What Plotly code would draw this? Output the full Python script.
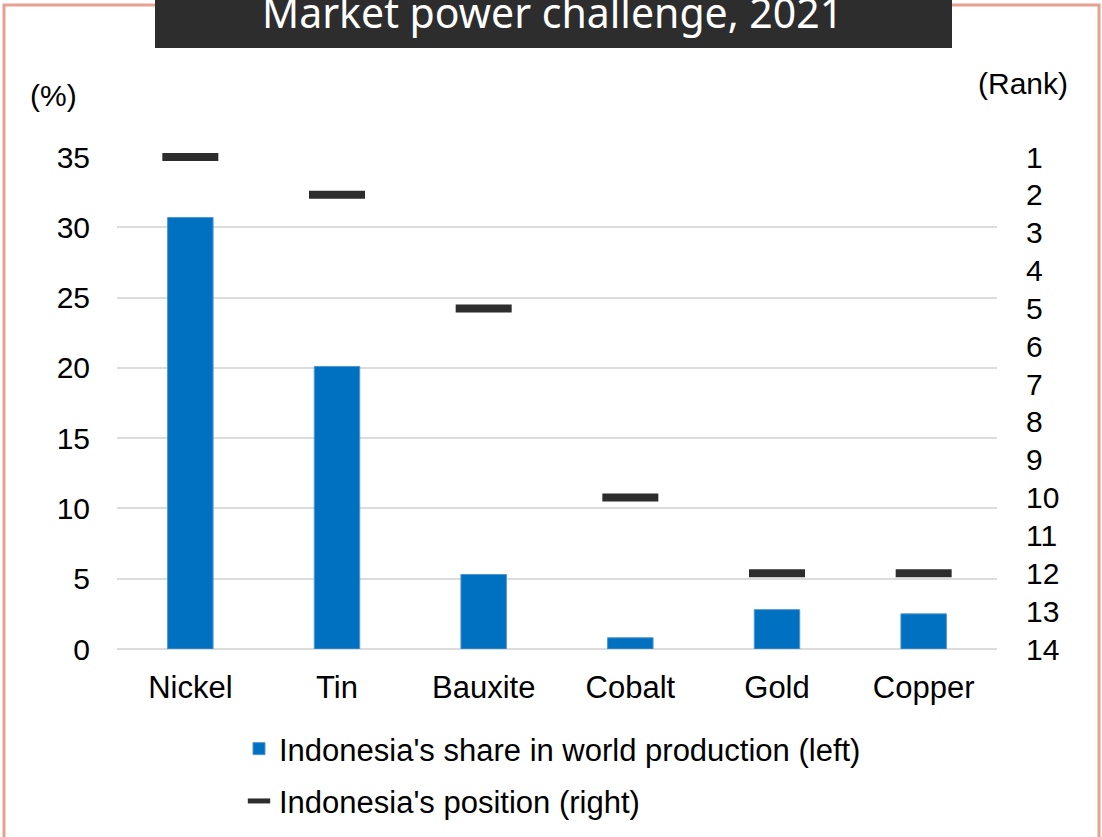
import plotly.graph_objects as go

# Minerals and Indonesia's standing in 2021
minerals = ["Nickel", "Tin", "Bauxite", "Cobalt", "Gold", "Copper"]
share_pct = [30.7, 20.1, 5.3, 0.8, 2.8, 2.5]   # share in world production, %
rank = [1, 2, 5, 10, 12, 12]                    # world ranking position

left_ticks = [0, 5, 10, 15, 20, 25, 30, 35]
rank_ticks = list(range(1, 15))

W, H = 1102, 837
ML, MR, MT, MB = 117, 105, 157, 188
PW, PH = W - ML - MR, H - MT - MB


def px_x(x):
    return (x - ML) / PW


def px_y(y):
    return (H - MB - y) / PH


FONT = "Liberation Sans, Arial, sans-serif"
BLUE = "#0070c0"
DARK = "#2d2d2d"
GRID = "#dcdcdc"
FRAME = "#e8a091"

fig = go.Figure()

fig.add_trace(go.Bar(
    x=minerals, y=share_pct,
    name="Indonesia's share in world production (left)",
    marker=dict(color=BLUE, line=dict(color="#4f96d3", width=1)),
    width=0.31,
    legendgroup="a",
))

fig.add_trace(go.Scatter(
    x=minerals, y=rank, yaxis="y2", mode="markers",
    name="Indonesia's position (right)",
    marker=dict(symbol="line-ew", size=40, color=DARK,
                line=dict(color=DARK, width=8)),
    cliponaxis=False,
    legendgroup="b",
))

fig.update_layout(
    width=W, height=H,
    margin=dict(l=ML, r=MR, t=MT, b=MB, autoexpand=False),
    paper_bgcolor="white", plot_bgcolor="white",
    font=dict(family=FONT, size=30, color="#000000"),
    showlegend=True,
    legend=dict(
        x=px_x(239), xanchor="left",
        y=px_y(722), yanchor="top",
        orientation="v",
        font=dict(size=31, color="#000000"),
        itemwidth=30,
        tracegroupgap=9,
        bgcolor="rgba(0,0,0,0)",
    ),
    xaxis=dict(
        showgrid=False, showline=False, ticks="",
        tickfont=dict(size=31),
        ticklabelstandoff=17,
        range=[-0.5, 5.5],
    ),
    yaxis=dict(
        range=[0, 35], tickvals=left_ticks,
        showgrid=True, gridcolor=GRID, gridwidth=2,
        zeroline=True, zerolinecolor=GRID, zerolinewidth=2,
        showline=False, ticks="",
        tickfont=dict(size=30),
        ticklabelstandoff=26,
    ),
    yaxis2=dict(
        overlaying="y", side="right",
        range=[14, 1], tickvals=rank_ticks,
        showgrid=False, zeroline=False, showline=False, ticks="",
        tickfont=dict(size=30),
        ticklabelstandoff=28,
    ),
    bargap=0.69,
)

# Outer frame and dark title banner
fig.add_shape(type="rect", xref="paper", yref="paper",
              x0=px_x(4), x1=px_x(1099), y0=px_y(900), y1=px_y(5),
              line=dict(color=FRAME, width=3), fillcolor="rgba(0,0,0,0)",
              layer="below")
fig.add_shape(type="rect", xref="paper", yref="paper",
              x0=px_x(155), x1=px_x(952), y0=px_y(48), y1=px_y(-2),
              line=dict(width=0), fillcolor=DARK, layer="above")

fig.add_annotation(text="Market power challenge, 2021",
                   xref="paper", yref="paper",
                   x=px_x(552), y=px_y(12), xanchor="center", yanchor="middle",
                   showarrow=False,
                   font=dict(family="Noto Sans, Open Sans, sans-serif",
                             size=41, color="white"))

fig.add_annotation(text="(%)", xref="paper", yref="paper",
                   x=px_x(28), y=px_y(96), xanchor="left", yanchor="middle",
                   showarrow=False, font=dict(size=30))
fig.add_annotation(text="(Rank)", xref="paper", yref="paper",
                   x=px_x(1070), y=px_y(84), xanchor="right", yanchor="middle",
                   showarrow=False, font=dict(size=30))

fig.write_html("out.html")
